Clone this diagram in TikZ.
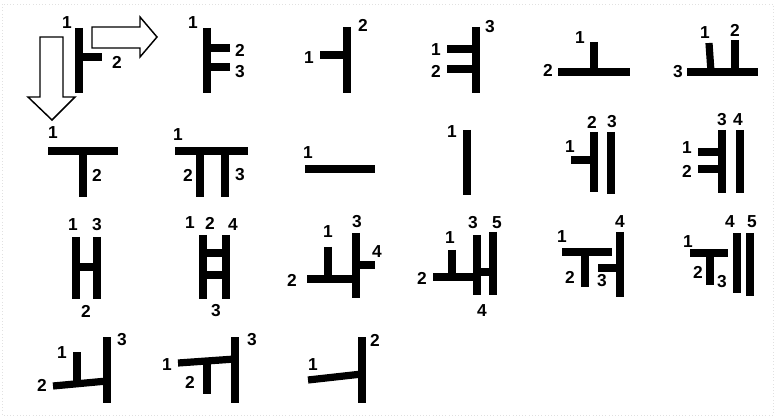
\documentclass[tikz,border=0pt]{standalone}
\usepackage{fontspec}
\setsansfont{Liberation Sans}
\begin{document}
\begin{tikzpicture}[x=0.75pt,y=0.75pt,yscale=-1,xscale=1,
  bar/.style={line width=5.4pt},
  num/.style={font=\sffamily\bfseries\fontsize{13}{14}\selectfont,inner sep=0pt},
  hollow/.style={line width=1.1pt,fill=white,line join=miter}]
\useasboundingbox (0,0) rectangle (775,417);
%faint scan border
\draw [color={rgb, 255:red, 225; green, 225; blue, 225 }, dotted] (2,4) rectangle (773,415);

%Block Arrows
\draw [hollow] (92,27) -- (140,27) -- (140,17) -- (157,37) -- (140,57) -- (140,48) -- (92,48) -- cycle ;
\draw [hollow] (40,37) -- (63,37) -- (63,97) -- (75,97) -- (52,120) -- (28,97) -- (40,97) -- cycle ;

%Row 1
\draw [bar, line width=6pt] (79,28) -- (79,93) ;
\draw [bar] (79,57) -- (102,57) ;
\node [num] (ga1) at (67,23) {1};
\node [num] (ga2) at (117,62) {2};

\draw [bar] (207,28) -- (207,93) ;
\draw [bar] (207,48) -- (230,48) ;
\draw [bar] (207,67) -- (230,67) ;
\node [num] (gb1) at (193,23) {1};
\node [num] (gb2) at (240,50) {2};
\node [num] (gb3) at (240,72) {3};

\draw [bar] (347,27) -- (347,93) ;
\draw [bar] (320,55) -- (347,55) ;
\node [num] (gc1) at (309,58) {1};
\node [num] (gc2) at (363,25) {2};

\draw [bar] (476,27) -- (476,93) ;
\draw [bar] (447,49) -- (476,49) ;
\draw [bar] (447,69) -- (476,69) ;
\node [num] (gd1) at (436,50) {1};
\node [num] (gd2) at (436,71) {2};
\node [num] (gd3) at (490,27) {3};

\draw [bar] (558,72) -- (630,72) ;
\draw [bar] (594,42) -- (594,72) ;
\node [num] (ge1) at (580,38) {1};
\node [num] (ge2) at (548,70) {2};

\draw [bar] (687,72) -- (758,72) ;
\draw [bar] (709,43) -- (711,72) ;
\draw [bar] (735,40) -- (735,72) ;
\node [num] (gf1) at (705,33) {1};
\node [num] (gf2) at (735,30) {2};
\node [num] (gf3) at (678,72) {3};

%Row 2
\draw [bar] (48,151) -- (118,151) ;
\draw [bar] (83,151) -- (83,197) ;
\node [num] (gg1) at (53,133) {1};
\node [num] (gg2) at (97,175) {2};

\draw [bar] (175,151) -- (248,151) ;
\draw [bar] (200,151) -- (200,197) ;
\draw [bar] (225,151) -- (225,197) ;
\node [num] (gh1) at (178,135) {1};
\node [num] (gh2) at (188,175) {2};
\node [num] (gh3) at (240,175) {3};

\draw [bar] (305,169) -- (375,169) ;
\node [num] (gi1) at (308,153) {1};

\draw [bar] (467,130) -- (467,195) ;
\node [num] (gj1) at (452,132) {1};

\draw [bar] (594,132) -- (594,192) ;
\draw [bar] (611,132) -- (611,194) ;
\draw [bar] (571,160) -- (594,160) ;
\node [num] (gk1) at (570,147) {1};
\node [num] (gk2) at (592,122) {2};
\node [num] (gk3) at (612,122) {3};

\draw [bar] (722,130) -- (722,193) ;
\draw [bar] (740,130) -- (740,193) ;
\draw [bar] (698,152) -- (722,152) ;
\draw [bar] (698,169) -- (722,169) ;
\node [num] (gl1) at (687,148) {1};
\node [num] (gl2) at (687,171) {2};
\node [num] (gl3) at (722,120) {3};
\node [num] (gl4) at (738,120) {4};

%Row 3
\draw [bar] (76,237) -- (76,299) ;
\draw [bar] (97,237) -- (97,299) ;
\draw [bar] (76,267) -- (97,267) ;
\node [num] (gm1) at (73,225) {1};
\node [num] (gm3) at (97,225) {3};
\node [num] (gm2) at (86,311) {2};

\draw [bar] (203,235) -- (203,299) ;
\draw [bar] (226,235) -- (226,299) ;
\draw [bar] (203,253) -- (226,253) ;
\draw [bar] (203,275) -- (226,275) ;
\node [num] (gn1) at (190,223) {1};
\node [num] (gn2) at (210,223) {2};
\node [num] (gn4) at (233,225) {4};
\node [num] (gn3) at (216,311) {3};

\draw [bar] (307,279) -- (357,279) ;
\draw [bar] (328,247) -- (328,279) ;
\draw [bar] (356,233) -- (356,298) ;
\draw [bar] (356,265) -- (375,265) ;
\node [num] (go1) at (328,232) {1};
\node [num] (go3) at (357,222) {3};
\node [num] (go4) at (377,252) {4};
\node [num] (go2) at (292,280) {2};

\draw [bar] (433,277) -- (477,277) ;
\draw [bar] (452,250) -- (452,277) ;
\draw [bar] (477,235) -- (477,295) ;
\draw [bar] (493,232) -- (493,295) ;
\draw [bar] (477,272) -- (493,272) ;
\node [num] (gp1) at (450,238) {1};
\node [num] (gp3) at (473,223) {3};
\node [num] (gp5) at (497,223) {5};
\node [num] (gp2) at (422,278) {2};
\node [num] (gp4) at (482,311) {4};

\draw [bar] (562,252) -- (612,252) ;
\draw [bar] (585,252) -- (585,287) ;
\draw [bar] (620,232) -- (620,297) ;
\draw [bar] (598,268) -- (620,268) ;
\node [num] (gq1) at (562,237) {1};
\node [num] (gq2) at (570,277) {2};
\node [num] (gq3) at (602,281) {3};
\node [num] (gq4) at (620,222) {4};

\draw [bar] (690,253) -- (728,253) ;
\draw [bar] (710,253) -- (710,285) ;
\draw [bar] (737,233) -- (737,293) ;
\draw [bar] (750,233) -- (750,296) ;
\node [num] (gr1) at (688,242) {1};
\node [num] (gr2) at (698,272) {2};
\node [num] (gr3) at (722,282) {3};
\node [num] (gr4) at (730,222) {4};
\node [num] (gr5) at (752,222) {5};

%Row 4
\draw [bar] (53,386) -- (107,381) ;
\draw [bar] (77,352) -- (77,383) ;
\draw [bar] (107,337) -- (107,403) ;
\node [num] (gs1) at (62,353) {1};
\node [num] (gs2) at (42,385) {2};
\node [num] (gs3) at (122,340) {3};

\draw [bar] (178,363) -- (235,359) ;
\draw [bar] (207,361) -- (207,394) ;
\draw [bar] (235,337) -- (235,403) ;
\node [num] (gt1) at (167,365) {1};
\node [num] (gt2) at (190,382) {2};
\node [num] (gt3) at (252,340) {3};

\draw [bar] (308,380) -- (362,374) ;
\draw [bar] (362,337) -- (362,403) ;
\node [num] (gu1) at (313,365) {1};
\node [num] (gu2) at (375,340) {2};

\end{tikzpicture}
\end{document}
